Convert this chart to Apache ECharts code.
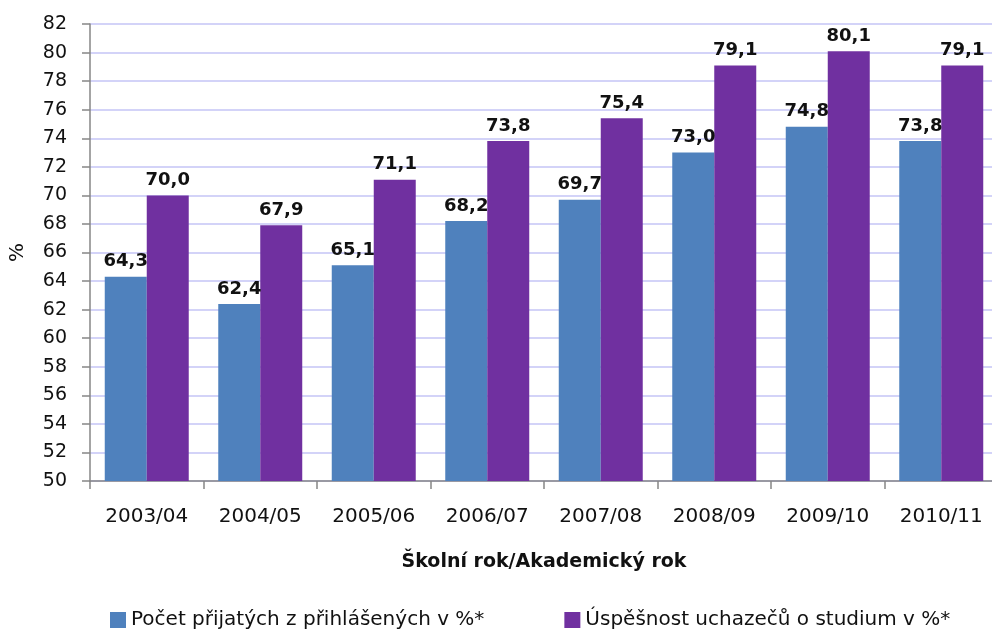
<!DOCTYPE html>
<html>
<head>
<meta charset="utf-8">
<script src="https://cdn.jsdelivr.net/npm/echarts@6/dist/echarts.min.js"></script>
<style>
  html, body { margin: 0; padding: 0; background: #fff; }
  #chart { width: 992px; height: 635px; }
</style>
</head>
<body>
<div id="chart"></div>
<script>
  const years = ["2003/04", "2004/05", "2005/06", "2006/07", "2007/08", "2008/09", "2009/10", "2010/11"];
  const prijati = [64.3, 62.4, 65.1, 68.2, 69.7, 73.0, 74.8, 73.8];
  const uspesnost = [70.0, 67.9, 71.1, 73.8, 75.4, 79.1, 80.1, 79.1];
  const seriesNames = ["Počet přijatých z přihlášených v %*", "Úspěšnost uchazečů o studium v %*"];

  const FONT = "DejaVu Sans";
  const BLUE = "#4f81bd";
  const PURPLE = "#7030a0";

  const chart = echarts.init(document.getElementById("chart"));

  // popisek nad sloupcem s desetinnou čárkou
  const label = {
    show: true,
    position: "top",
    distance: 6,
    fontFamily: FONT,
    fontWeight: "bold",
    fontSize: 18,
    color: "#111",
    formatter: p => p.value.toFixed(1).replace(".", ",")
  };

  const option = {
    animation: false,
    textStyle: { fontFamily: FONT },
    grid: { left: 90, top: 24, width: 908, height: 457, containLabel: false, outerBoundsMode: "none" },
    legend: {
      bottom: 0,
      left: 105,
      itemGap: 80,
      itemWidth: 16,
      itemHeight: 16,
      icon: "rect",
      textStyle: { fontFamily: FONT, fontSize: 20, color: "#111" },
      data: seriesNames
    },
    xAxis: {
      type: "category",
      data: years,
      name: "Školní rok/Akademický rok",
      nameLocation: "middle",
      nameGap: 72,
      nameTextStyle: { fontFamily: FONT, fontWeight: "bold", fontSize: 19, color: "#111" },
      axisLine: { lineStyle: { color: "#868686", width: 1.5 } },
      axisTick: { show: true, length: 8, lineStyle: { color: "#868686", width: 1.5 } },
      axisLabel: { fontFamily: FONT, fontSize: 20, color: "#111", margin: 26 }
    },
    yAxis: {
      type: "value",
      min: 50,
      max: 82,
      interval: 2,
      name: "%",
      nameLocation: "middle",
      nameGap: 62,
      nameTextStyle: { fontFamily: FONT, fontSize: 20, color: "#111" },
      axisLine: { show: true, lineStyle: { color: "#868686", width: 1.5 } },
      axisTick: { show: true, length: 8, lineStyle: { color: "#868686", width: 1.5 } },
      axisLabel: { fontFamily: FONT, fontSize: 19, color: "#111", margin: 23 },
      splitLine: { lineStyle: { color: "#c4c4f6", width: 1.5 } }
    },
    series: [
      {
        name: seriesNames[0],
        type: "bar",
        data: prijati,
        barGap: "0%",
        barCategoryGap: "26%",
        itemStyle: { color: BLUE },
        label: label
      },
      {
        name: seriesNames[1],
        type: "bar",
        data: uspesnost,
        barGap: "0%",
        barCategoryGap: "26%",
        itemStyle: { color: PURPLE },
        label: label
      }
    ]
  };

  chart.setOption(option);
</script>
</body>
</html>
